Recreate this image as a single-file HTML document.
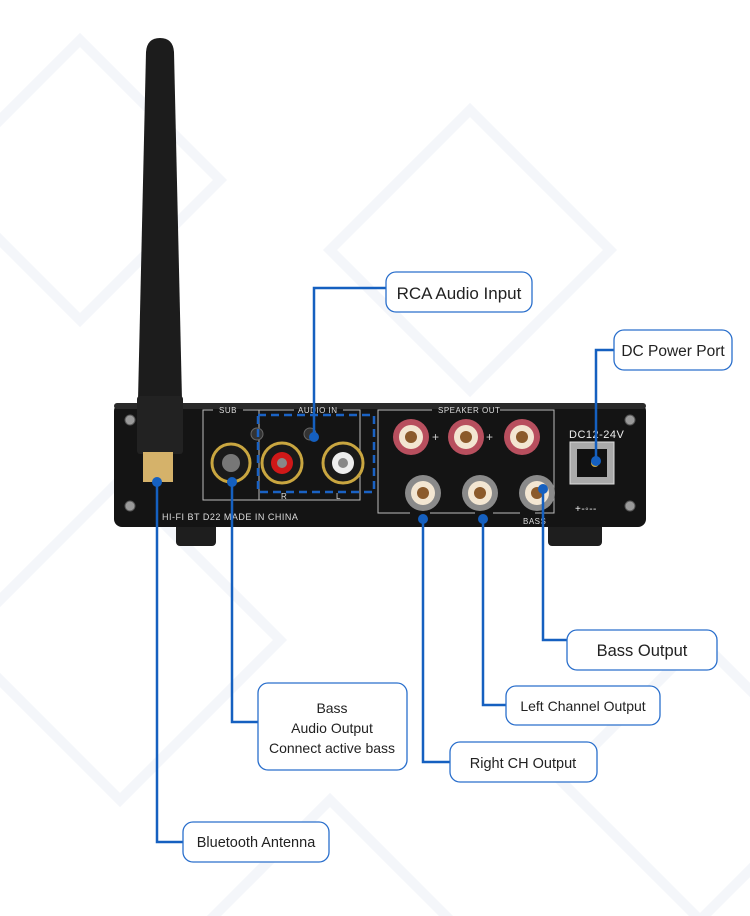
<!DOCTYPE html>
<html><head><meta charset="utf-8"><style>
html,body{margin:0;padding:0;background:#fff;}
svg{display:block;}
text{font-family:"Liberation Sans","DejaVu Sans",sans-serif;fill:#222;}
</style></head><body>
<svg width="750" height="916" viewBox="0 0 750 916" xmlns="http://www.w3.org/2000/svg">
<rect width="750" height="916" fill="#fff"/>
<g fill="none" stroke="#f4f6fa" stroke-width="10">
<path d="M-60 180 L80 40 L220 180 L80 320 Z"/>
<path d="M330 250 L470 110 L610 250 L470 390 Z"/>
<path d="M-40 640 L120 480 L280 640 L120 800 Z"/>
<path d="M560 780 L700 640 L840 780 L700 920 Z"/>
<path d="M200 930 L330 800 L460 930"/>
</g>
<!-- feet -->
<rect x="176" y="520" width="40" height="26" rx="4" fill="#1e1e1e"/>
<rect x="548" y="520" width="54" height="26" rx="4" fill="#1e1e1e"/>
<!-- body -->
<rect x="114" y="403" width="532" height="124" rx="8" fill="#141414"/>
<rect x="114" y="403" width="532" height="6" rx="3" fill="#2a2a2a"/>
<g fill="#9a9a9a" stroke="#555"><circle cx="130" cy="420" r="5"/><circle cx="130" cy="506" r="5"/><circle cx="630" cy="420" r="5"/><circle cx="630" cy="506" r="5"/></g>
<g fill="none" stroke="#bbb" stroke-width="1">
<path d="M213 410 H203 V500 H360 V410 H343"/>
<path d="M243 410 H294"/>
<path d="M259 410 V500"/>
<path d="M432 410 H378 V513 H410"/>
<path d="M500 410 H554 V513 H535"/>
<path d="M430 513 H475 M493 513 H520"/>
</g>
<g font-size="8" style="letter-spacing:.5px">
<text x="219" y="413" style="fill:#ddd">SUB</text>
<text x="298" y="413" style="fill:#ddd">AUDIO IN</text>
<text x="438" y="413" style="fill:#ddd">SPEAKER OUT</text>
<text x="523" y="524" style="fill:#ddd">BASS</text>
<text x="162" y="520" style="fill:#ddd" font-size="9">HI-FI BT D22 MADE IN CHINA</text>
<text x="569" y="438" style="fill:#eee" font-size="11">DC12-24V</text>
<text x="575" y="512" style="fill:#eee" font-size="10">+-◦--</text>
<text x="281" y="499" style="fill:#ddd">R</text><text x="336" y="499" style="fill:#ddd">L</text>
</g>
<circle cx="257" cy="434" r="6" fill="#333" stroke="#666"/><circle cx="310" cy="434" r="6" fill="#333" stroke="#666"/>
<circle cx="231" cy="463" r="19" fill="#1a1a1a" stroke="#c9a640" stroke-width="3"/><circle cx="231" cy="463" r="9" fill="#777"/>
<circle cx="282" cy="463" r="20" fill="#1a1a1a" stroke="#c9a640" stroke-width="3"/><circle cx="282" cy="463" r="11" fill="#d01818"/><circle cx="282" cy="463" r="5" fill="#888"/>
<circle cx="343" cy="463" r="20" fill="#1a1a1a" stroke="#c9a640" stroke-width="3"/><circle cx="343" cy="463" r="11" fill="#eee"/><circle cx="343" cy="463" r="5" fill="#888"/>
<g><circle cx="411" cy="437" r="18" fill="#b84f5e"/><circle cx="411" cy="437" r="12" fill="#f3e6d2"/><circle cx="411" cy="437" r="6" fill="#8b5a2b"/>
<circle cx="466" cy="437" r="18" fill="#b84f5e"/><circle cx="466" cy="437" r="12" fill="#f3e6d2"/><circle cx="466" cy="437" r="6" fill="#8b5a2b"/>
<circle cx="522" cy="437" r="18" fill="#b84f5e"/><circle cx="522" cy="437" r="12" fill="#f3e6d2"/><circle cx="522" cy="437" r="6" fill="#8b5a2b"/>
<circle cx="423" cy="493" r="18" fill="#8a8a8a"/><circle cx="423" cy="493" r="12" fill="#f3e6d2"/><circle cx="423" cy="493" r="6" fill="#8b5a2b"/>
<circle cx="480" cy="493" r="18" fill="#8a8a8a"/><circle cx="480" cy="493" r="12" fill="#f3e6d2"/><circle cx="480" cy="493" r="6" fill="#8b5a2b"/>
<circle cx="537" cy="493" r="18" fill="#8a8a8a"/><circle cx="537" cy="493" r="12" fill="#f3e6d2"/><circle cx="537" cy="493" r="6" fill="#8b5a2b"/></g>
<text x="432" y="441" font-size="12" style="fill:#ccc">+</text><text x="486" y="441" font-size="12" style="fill:#ccc">+</text>
<rect x="570" y="442" width="44" height="42" fill="#aaa" stroke="#ddd"/><rect x="577" y="449" width="30" height="28" fill="#111"/><circle cx="595" cy="463" r="4" fill="#c9a640"/>
<!-- antenna -->
<path d="M146 52 Q147 38 160 38 Q173 38 174 52 L182 400 L138 400 Z" fill="#1c1c1c"/>
<rect x="137" y="396" width="46" height="58" rx="3" fill="#222"/>
<rect x="143" y="452" width="30" height="30" fill="#d5b26a"/>
<rect x="258" y="415" width="116" height="77" fill="none" stroke="#1a62c4" stroke-width="2.5" stroke-dasharray="8 5"/>
<g fill="none" stroke="#1560c0" stroke-width="2.5">
<path d="M314 437 V288 H386"/>
<path d="M596 461 V350 H614"/>
<path d="M543 489 V640 H567"/>
<path d="M483 519 V705 H506"/>
<path d="M423 519 V762 H450"/>
<path d="M232 482 V722 H258"/>
<path d="M157 482 V842 H183"/>
</g>
<g fill="#1560c0"><circle cx="314" cy="437" r="5"/><circle cx="596" cy="461" r="5"/><circle cx="543" cy="489" r="5"/><circle cx="483" cy="519" r="5"/><circle cx="423" cy="519" r="5"/><circle cx="232" cy="482" r="5"/><circle cx="157" cy="482" r="5"/></g>
<g fill="#fff" stroke="#2a6fcc" stroke-width="1.3">
<rect x="386" y="272" width="146" height="40" rx="10"/>
<rect x="614" y="330" width="118" height="40" rx="10"/>
<rect x="567" y="630" width="150" height="40" rx="10"/>
<rect x="506" y="686" width="154" height="39" rx="10"/>
<rect x="450" y="742" width="147" height="40" rx="10"/>
<rect x="258" y="683" width="149" height="87" rx="10"/>
<rect x="183" y="822" width="146" height="40" rx="10"/>
</g>
<text x="459" y="299" font-size="17" text-anchor="middle">RCA Audio Input</text>
<text x="673" y="356" font-size="15.5" text-anchor="middle">DC Power Port</text>
<text x="642" y="656" font-size="16.5" text-anchor="middle">Bass Output</text>
<text x="583" y="711" font-size="14" text-anchor="middle">Left Channel Output</text>
<text x="523" y="768" font-size="14.5" text-anchor="middle">Right CH Output</text>
<text x="332" y="713" font-size="14" text-anchor="middle">Bass</text>
<text x="332" y="733" font-size="14" text-anchor="middle">Audio Output</text>
<text x="332" y="753" font-size="14" text-anchor="middle">Connect active bass</text>
<text x="256" y="847" font-size="14.5" text-anchor="middle">Bluetooth Antenna</text>
</svg>
</body></html>
